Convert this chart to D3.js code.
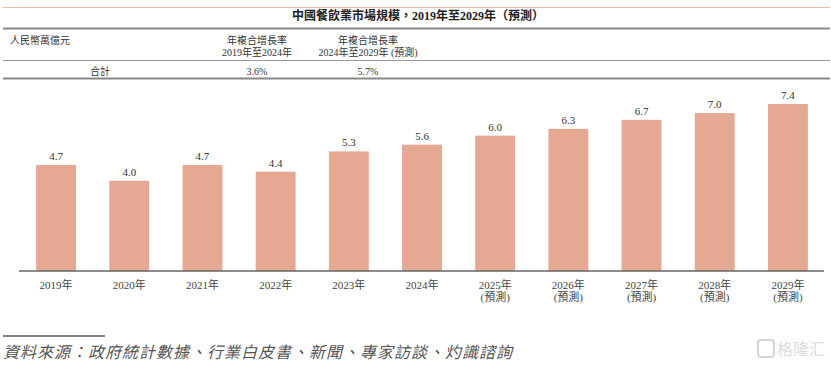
<!DOCTYPE html>
<html>
<head>
<meta charset="utf-8">
<script src="https://cdn.jsdelivr.net/npm/d3@7"></script>
<style>
  body { margin: 0; background: #fff; }
  svg text { font-family: "Liberation Serif", "Noto Sans CJK TC", serif; fill: #333; }
</style>
</head>
<body>
<svg id="chart"></svg>
<script>
(function () {
  'use strict';

  var years = ['2019', '2020', '2021', '2022', '2023', '2024', '2025', '2026', '2027', '2028', '2029'];
  var values = [4.7, 4.0, 4.7, 4.4, 5.3, 5.6, 6.0, 6.3, 6.7, 7.0, 7.4];
  var forecast = [false, false, false, false, false, false, true, true, true, true, true];

  var title = '中國餐飲業市場規模，2019年至2029年（預測）';
  var unitLabel = '人民幣萬億元';
  var cagrHeads = [['年複合增長率', '2019年至2024年'], ['年複合增長率', '2024年至2029年 (預測)']];
  var rowLabel = '合計';
  var cagrValues = ['3.6%', '5.7%'];
  var source = '資料來源：政府統計數據、行業白皮書、新聞、專家訪談、灼識諮詢';

  var width = 831, height = 366;

  var svg = d3.select('#chart')
      .attr('width', width)
      .attr('height', height);

  // header table
  svg.append('line')
      .attr('x1', 3).attr('x2', 830).attr('y1', 7.5).attr('y2', 7.5)
      .style('stroke', '#e9bcad').style('stroke-width', 1.2);

  svg.append('text')
      .attr('x', 418).attr('y', 20)
      .attr('text-anchor', 'middle')
      .style('font-size', '12px').style('font-weight', 'bold').style('fill', '#222')
      .text(title);

  svg.append('line')
      .attr('x1', 3).attr('x2', 830).attr('y1', 28.5).attr('y2', 28.5)
      .style('stroke', '#888').style('stroke-width', 2);

  svg.append('text')
      .attr('x', 10).attr('y', 44)
      .style('font-size', '10px')
      .text(unitLabel);

  var colX = [257, 368];
  cagrHeads.forEach(function (lines, i) {
    lines.forEach(function (t, j) {
      svg.append('text')
          .attr('x', colX[i]).attr('y', 44 + j * 12)
          .attr('text-anchor', 'middle')
          .style('font-size', '10px')
          .text(t);
    });
  });

  svg.append('line')
      .attr('x1', 3).attr('x2', 830).attr('y1', 60.5).attr('y2', 60.5)
      .style('stroke', '#999').style('stroke-width', 1.2);

  svg.append('text')
      .attr('x', 100).attr('y', 75)
      .attr('text-anchor', 'middle')
      .style('font-size', '10px')
      .text(rowLabel);

  cagrValues.forEach(function (v, i) {
    svg.append('text')
        .attr('x', colX[i]).attr('y', 75)
        .attr('text-anchor', 'middle')
        .style('font-size', '10px')
        .text(v);
  });

  svg.append('line')
      .attr('x1', 3).attr('x2', 830).attr('y1', 78.5).attr('y2', 78.5)
      .style('stroke', '#888').style('stroke-width', 2);

  // bars
  var x = d3.scaleBand()
      .domain(years)
      .range([19.5, 824.5])
      .paddingInner(0.455)
      .paddingOuter(0.2275);

  var y = d3.scaleLinear()
      .domain([0, 8])
      .range([271, 90.5]);

  svg.selectAll('rect.bar')
      .data(values)
      .enter()
      .append('rect')
      .attr('class', 'bar')
      .attr('x', function (d, i) { return x(years[i]); })
      .attr('y', function (d) { return y(d); })
      .attr('width', x.bandwidth())
      .attr('height', function (d) { return y(0) - y(d); })
      .style('fill', '#e5a893');

  svg.selectAll('text.val')
      .data(values)
      .enter()
      .append('text')
      .attr('class', 'val')
      .attr('x', function (d, i) { return x(years[i]) + x.bandwidth() / 2; })
      .attr('y', function (d) { return y(d) - 5; })
      .attr('text-anchor', 'middle')
      .style('font-size', '11px')
      .text(function (d) { return d.toFixed(1); });

  svg.append('line')
      .attr('x1', 19).attr('x2', 824).attr('y1', 271).attr('y2', 271)
      .style('stroke', '#666').style('stroke-width', 1.5);

  var xl = svg.selectAll('text.xl')
      .data(years)
      .enter()
      .append('text')
      .attr('class', 'xl')
      .attr('x', function (d) { return x(d) + x.bandwidth() / 2; })
      .attr('y', 289)
      .attr('text-anchor', 'middle')
      .style('font-size', '11px')
      .style('fill', '#444');

  xl.append('tspan')
      .text(function (d) { return d + '年'; });
  xl.filter(function (d, i) { return forecast[i]; })
      .append('tspan')
      .attr('x', function (d) { return x(d) + x.bandwidth() / 2; })
      .attr('dy', 12)
      .text('(預測)');

  // footer
  svg.append('line')
      .attr('x1', 3).attr('x2', 105).attr('y1', 336).attr('y2', 336)
      .style('stroke', '#555').style('stroke-width', 1.5);

  svg.append('text')
      .attr('x', 3).attr('y', 358)
      .style('font-size', '16px')
      .style('font-style', 'italic')
      .style('letter-spacing', '1px')
      .style('fill', '#555')
      .text(source);

  // watermark
  var wm = svg.append('g').attr('transform', 'translate(757,339)');
  wm.append('rect')
      .attr('x', 1).attr('y', 1).attr('width', 16).attr('height', 17).attr('rx', 3)
      .style('fill', 'none').style('stroke', '#d4d4d4').style('stroke-width', 2);
  wm.append('text')
      .attr('x', 20).attr('y', 16)
      .style('font-size', '16px')
      .style('font-family', '"Noto Sans CJK SC"')
      .style('fill', '#dcdcdc')
      .text('格隆汇');
}());
</script>
</body>
</html>
